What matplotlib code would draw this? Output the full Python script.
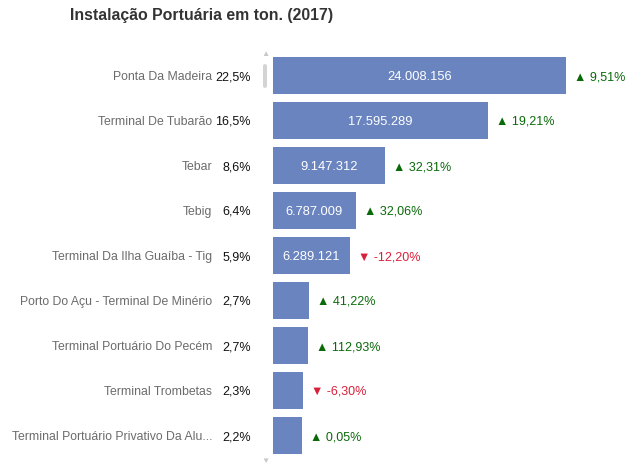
import matplotlib.pyplot as plt
from matplotlib.patches import FancyBboxPatch
from matplotlib.transforms import offset_copy

plt.rcParams['font.family'] = ['Liberation Sans', 'DejaVu Sans']

portos = ['Ponta Da Madeira', 'Terminal De Tubarão', 'Tebar', 'Tebig',
          'Terminal Da Ilha Guaíba - Tig', 'Porto Do Açu - Terminal De Minério',
          'Terminal Portuário Do Pecém', 'Terminal Trombetas',
          'Terminal Portuário Privativo Da Alu...']
toneladas = [24008156, 17595289, 9147312, 6787009, 6289121,
             2920000, 2880000, 2450000, 2370000]
participacao = [22.5, 16.5, 8.6, 6.4, 5.9, 2.7, 2.7, 2.3, 2.2]
variacao = [9.51, 19.21, 32.31, 32.06, -12.20, 41.22, 112.93, -6.30, 0.05]

W, H = 632, 474
fig = plt.figure(figsize=(W / 100, H / 100), dpi=100)

# axes placed in pixels: bars start at x=273, rows 45 px tall from y=53
ax_left, ax_right = 273, 620
ax_top, ax_bot = 53, 458
ax = fig.add_axes([ax_left / W, 1 - ax_bot / H,
                   (ax_right - ax_left) / W, (ax_bot - ax_top) / H])
px_por_milhao = 12.2
ax.set_xlim(0, (ax_right - ax_left) / px_por_milhao * 1e6)
ax.set_ylim(len(portos) - 0.5, -0.5)
ax.axis('off')

cor_barra = '#6a84c0'
ypos = list(range(len(portos)))
ax.barh(ypos, toneladas, height=0.835, color=cor_barra)

fmt = lambda v: f'{v:,.0f}'.replace(',', '.')
# text sits a touch lower than the row centre
tdata = offset_copy(ax.transData, fig=fig, x=0, y=-1.5, units='dots')
tgap = offset_copy(ax.transData, fig=fig, x=8, y=-1.5, units='dots')
for i, (nome, t, p, d) in enumerate(zip(portos, toneladas, participacao, variacao)):
    yfig = 1 - (ax_top + 45 * i + 24) / H
    fig.text(212.5 / W, yfig, nome, ha='right', va='center',
             fontsize=8.8, color='#6b6b6b')
    fig.text(251 / W, yfig, f'{p:.1f}%'.replace('.', ','), ha='right',
             va='center', fontsize=9, color='#111111')
    if t > 5e6:
        ax.text(t / 2, i, fmt(t), ha='center', va='center',
                fontsize=9.3, color='white', transform=tdata)
    if d >= 0:
        s, c = f'▲ {d:.2f}%', '#0a6a0a'
    else:
        s, c = f'▼ {d:.2f}%', '#d9203a'
    ax.text(t, i, s.replace('.', ','), ha='left', va='center',
            fontsize=9, color=c, transform=tgap)

fig.text(70 / W, 1 - 15.5 / H, 'Instalação Portuária em ton. (2017)',
         ha='left', va='center', fontsize=11.4, fontweight='bold',
         color='#333333')

# scrollbar
fig.patches.append(FancyBboxPatch((263 / W, 1 - 88 / H), 4 / W, 24 / H,
                                  boxstyle='round,pad=0,rounding_size=0.004',
                                  transform=fig.transFigure,
                                  facecolor='#d4d4d4', edgecolor='none'))
fig.text(265.5 / W, 1 - 54 / H, '▲', ha='center', va='center',
         fontsize=6, color='#c8c8c8')
fig.text(265.5 / W, 1 - 461 / H, '▼', ha='center', va='center',
         fontsize=6, color='#c8c8c8')

fig.savefig('out.png', dpi=100)
